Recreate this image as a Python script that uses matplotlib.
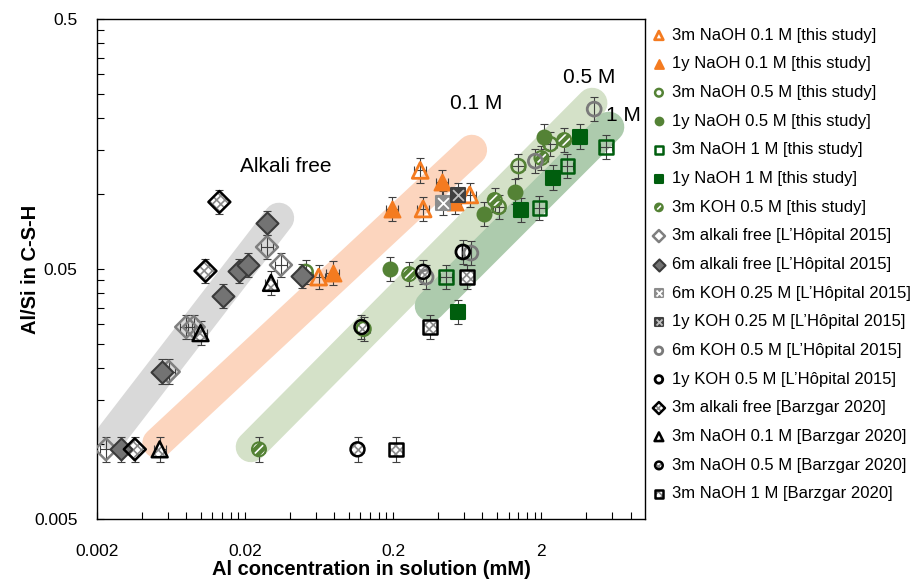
import matplotlib
matplotlib.use('Agg')
import matplotlib.pyplot as plt
from matplotlib.legend_handler import HandlerTuple
from matplotlib.ticker import FixedLocator, NullFormatter
import numpy as np

plt.rcParams['font.family'] = ['Liberation Sans', 'DejaVu Sans']
plt.rcParams['hatch.linewidth'] = 1.2

ORANGE = '#F47B20'
GREEN = '#548235'
DKGREEN = '#005E0E'
BAR = '#404040'

# Al concentration in solution (mM) and Al/Si in C-S-H, one pair of lists per series
naoh01_3m_al = [0.0627, 0.304, 0.318, 0.657]
naoh01_3m_alsi = [0.0464, 0.124, 0.0869, 0.0989]
naoh01_1y_al = [0.0779, 0.197, 0.427, 0.521]
naoh01_1y_alsi = [0.0482, 0.0869, 0.111, 0.0927]
naoh05_3m_al = [0.0513, 0.126, 1.03, 1.40, 2.30]
naoh05_3m_alsi = [0.0487, 0.0288, 0.0885, 0.129, 0.158]
naoh05_1y_al = [0.191, 0.816, 1.32, 2.09]
naoh05_1y_alsi = [0.0500, 0.0830, 0.102, 0.169]
naoh1_3m_al = [0.454, 1.94, 2.99, 5.46]
naoh1_3m_alsi = [0.0464, 0.0877, 0.129, 0.154]
naoh1_1y_al = [0.546, 1.45, 2.41, 3.65]
naoh1_1y_alsi = [0.0337, 0.0861, 0.116, 0.169]
koh05_3m_al = [0.0248, 0.256, 0.968, 2.00, 2.85]
koh05_3m_alsi = [0.0095, 0.0477, 0.0944, 0.139, 0.164]

lh_free_3m_al = [0.0023, 0.0061, 0.0080, 0.0090, 0.0281, 0.0349]
lh_free_3m_alsi = [0.0095, 0.0194, 0.0293, 0.0293, 0.0612, 0.0519]
lh_free_6m_al = [0.0029, 0.0055, 0.0142, 0.0182, 0.0209, 0.0281, 0.0483]
lh_free_6m_alsi = [0.0095, 0.0194, 0.0390, 0.0491, 0.0519, 0.0764, 0.0469]
lh_koh025_6m_al = [0.433]
lh_koh025_6m_alsi = [0.0918]
lh_koh025_1y_al = [0.546]
lh_koh025_1y_alsi = [0.0989]
lh_koh05_6m_al = [0.333, 0.668, 1.82, 4.54]
lh_koh05_6m_alsi = [0.0464, 0.0579, 0.135, 0.218]
lh_koh05_1y_al = [0.590]
lh_koh05_1y_alsi = [0.0585]

bz_free_al = [0.0036, 0.0108, 0.0134]
bz_free_alsi = [0.0095, 0.0491, 0.0927]
bz_naoh01_al = [0.0053, 0.0100, 0.0299]
bz_naoh01_alsi = [0.0095, 0.0277, 0.0440]
bz_naoh05_al = [0.1147, 0.122, 0.318]
bz_naoh05_alsi = [0.0095, 0.0293, 0.0487]
bz_naoh1_al = [0.209, 0.354, 0.628]
bz_naoh1_alsi = [0.0095, 0.0293, 0.0464]

# guide bands (start and end point of each trend)
band_free = ([0.00252, 0.0338], [0.01085, 0.080])
band_01 = ([0.00513, 0.678], [0.01007, 0.1496])
band_05 = ([0.0219, 4.40], [0.00971, 0.2306])
band_1 = ([0.354, 5.72], [0.0356, 0.185])

# relative uncertainty used for the error bars
XERR = 1.10
YERR = 1.12

fig = plt.figure(figsize=(9.21, 5.81), dpi=100)
ax = fig.add_axes([0.1053, 0.1067, 0.595, 0.8606])
ax.set_xscale('log')
ax.set_yscale('log')


def draw(x, y, marker, face, edge, size=100, lw=1.5, hatch=None, hcolor=None,
         overlay=None, xerr=True, z=3):
    x = np.asarray(x)
    y = np.asarray(y)
    xe = [x * (1 - 1 / XERR), x * (XERR - 1)] if xerr else None
    ax.errorbar(x, y, yerr=[y * (1 - 1 / YERR), y * (YERR - 1)], xerr=xe,
                fmt='none', ecolor=BAR, elinewidth=0.8, capsize=3,
                capthick=0.8, zorder=z)
    parts = []
    if hatch:
        parts.append(ax.scatter(x, y, s=size, marker=marker, facecolor=face,
                                edgecolor=hcolor, hatch=hatch, linewidth=0,
                                zorder=z + 0.1))
        face = 'none'
    parts.append(ax.scatter(x, y, s=size, marker=marker, facecolor=face,
                            edgecolor=edge, linewidth=lw, zorder=z + 0.2))
    if overlay:
        parts.append(ax.scatter(x, y, s=size * 0.55, marker='x', color=overlay,
                                linewidth=1.3, zorder=z + 0.3))
    return tuple(parts)


# guide bands
for (bx, by), col in [(band_free, '#D9D9D9'), (band_01, '#FCD5BE'),
                      (band_05, '#D4E1C8'), (band_1, '#ADCBAD')]:
    ax.plot(bx, by, color=col, linewidth=22, solid_capstyle='round', zorder=1)

ax.text(0.0377, 0.128, 'Alkali free', fontsize=15, ha='center', va='center')
ax.text(0.721, 0.2306, '0.1 M', fontsize=15, ha='center', va='center')
ax.text(4.20, 0.293, '0.5 M', fontsize=15, ha='center', va='center')
ax.text(7.10, 0.2065, '1 M', fontsize=15, ha='center', va='center')

CROSS = '#8A8A8A'
handles = [
    draw(naoh01_3m_al, naoh01_3m_alsi, '^', 'none', ORANGE, size=130, lw=2),
    draw(naoh01_1y_al, naoh01_1y_alsi, '^', ORANGE, ORANGE, size=130),
    draw(naoh05_3m_al, naoh05_3m_alsi, 'o', 'none', GREEN, lw=1.8),
    draw(naoh05_1y_al, naoh05_1y_alsi, 'o', GREEN, GREEN),
    draw(naoh1_3m_al, naoh1_3m_alsi, 's', 'none', DKGREEN, size=95, lw=1.8),
    draw(naoh1_1y_al, naoh1_1y_alsi, 's', DKGREEN, DKGREEN, size=95),
    draw(koh05_3m_al, koh05_3m_alsi, 'o', GREEN, GREEN, hatch='////', hcolor='white'),
    draw(lh_free_3m_al, lh_free_3m_alsi, 'D', 'none', '#7F7F7F', size=125, lw=1.8),
    draw(lh_free_6m_al, lh_free_6m_alsi, 'D', '#737373', '#3A3A3A', size=125),
    draw(lh_koh025_6m_al, lh_koh025_6m_alsi, 's', '#8C8C8C', '#8C8C8C', size=110, overlay='white'),
    draw(lh_koh025_1y_al, lh_koh025_1y_alsi, 's', '#404040', '#404040', size=110, overlay='#BFBFBF'),
    draw(lh_koh05_6m_al, lh_koh05_6m_alsi, 'o', 'none', '#7A7A7A', lw=2, xerr=False),
    draw(lh_koh05_1y_al, lh_koh05_1y_alsi, 'o', 'white', 'black', lw=2, hatch='||', hcolor='black'),
    draw(bz_free_al, bz_free_alsi, 'D', 'white', 'black', size=125, lw=1.8, hatch='xxxx', hcolor=CROSS),
    draw(bz_naoh01_al, bz_naoh01_alsi, '^', 'white', 'black', size=130, lw=1.8, hatch='xxxx', hcolor=CROSS),
    draw(bz_naoh05_al, bz_naoh05_alsi, 'o', 'white', 'black', lw=1.8, hatch='xxxx', hcolor=CROSS),
    draw(bz_naoh1_al, bz_naoh1_alsi, 's', 'white', 'black', size=95, lw=1.8, hatch='xxxx', hcolor=CROSS),
]
labels = [
    '3m NaOH 0.1 M [this study]',
    '1y NaOH 0.1 M [this study]',
    '3m NaOH 0.5 M [this study]',
    '1y NaOH 0.5 M [this study]',
    '3m NaOH 1 M [this study]',
    '1y NaOH 1 M [this study]',
    '3m KOH 0.5 M [this study]',
    '3m alkali free [L’Hôpital 2015]',
    '6m alkali free [L’Hôpital 2015]',
    '6m KOH 0.25 M [L’Hôpital 2015]',
    '1y KOH 0.25 M [L’Hôpital 2015]',
    '6m KOH 0.5 M [L’Hôpital 2015]',
    '1y KOH 0.5 M [L’Hôpital 2015]',
    '3m alkali free [Barzgar 2020]',
    '3m NaOH 0.1 M [Barzgar 2020]',
    '3m NaOH 0.5 M [Barzgar 2020]',
    '3m NaOH 1 M [Barzgar 2020]',
]

ax.set_xlim(0.002, 10)
ax.set_ylim(0.005, 0.5)

xmajor = [0.002, 0.02, 0.2, 2]
ymajor = [0.005, 0.05, 0.5]
xminor = [m * k for m in xmajor for k in range(2, 10) if m * k < 10]
yminor = [m * k for m in ymajor[:2] for k in range(2, 10)]
ax.xaxis.set_major_locator(FixedLocator(xmajor))
ax.xaxis.set_minor_locator(FixedLocator(xminor))
ax.yaxis.set_major_locator(FixedLocator(ymajor))
ax.yaxis.set_minor_locator(FixedLocator(yminor))
ax.set_xticklabels(['0.002', '0.02', '0.2', '2'])
ax.set_yticklabels(['0.005', '0.05', '0.5'])
ax.xaxis.set_minor_formatter(NullFormatter())
ax.yaxis.set_minor_formatter(NullFormatter())
ax.tick_params(which='both', direction='in', length=5, width=0.8,
               labelsize=12.5, top=False, right=False)
ax.tick_params(axis='x', pad=18)
ax.tick_params(axis='y', pad=14)
for sp in ax.spines.values():
    sp.set_linewidth(1)

ax.set_xlabel('Al concentration in solution (mM)', fontsize=14.5,
              fontweight='bold', labelpad=1)
ax.set_ylabel('Al/Si in C-S-H', fontsize=14.5, fontweight='bold', labelpad=-4)

fig.legend(handles, labels, loc='upper left', bbox_to_anchor=(0.691, 0.978),
           frameon=False, fontsize=12, scatterpoints=1, markerscale=0.55,
           handlelength=0.9, handletextpad=0.35, labelspacing=0.82,
           handler_map={tuple: HandlerTuple(ndivide=1, pad=0)})

fig.savefig('out.png', dpi=100)
